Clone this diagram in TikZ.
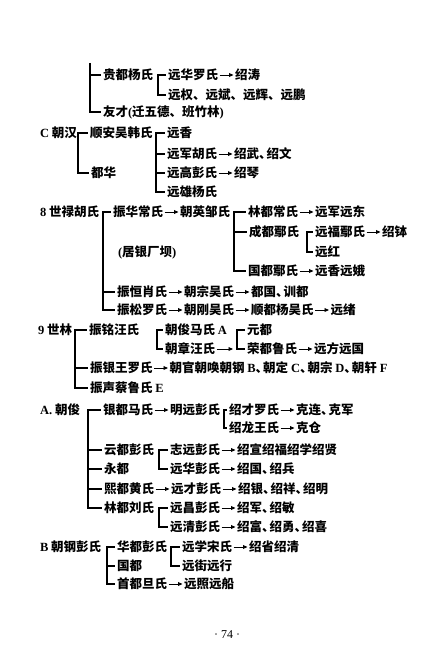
\documentclass[tikz,border=0pt]{standalone}
\usepackage{fontspec}
\setmainfont{Liberation Serif}
\newfontfamily\cjk{Noto Sans CJK SC}
\usetikzlibrary{arrows.meta,positioning}
\newcommand\lat[1]{{\rmfamily #1}}
\newcommand\dun{\makebox[0.6em][l]{、}}
\tikzset{
  t/.style={inner sep=0pt, outer sep=0pt, anchor=west,
    font=\cjk\bfseries\fontsize{12.5}{14}\selectfont,
    text height=11pt, text depth=1.5pt},
  ar/.style={draw, line width=0.9pt, -{Triangle[length=4.5pt,width=3.8pt]},
    shorten <=1.5pt, shorten >=1.5pt},
  br/.style={draw, line width=1.1pt},
}
\newcommand\chainto[3]{\node[t,right=17pt of #1] (#2) {#3}; \draw[ar] (#1) -- (#2);}
\newcommand\mybrk[3]{\draw[br] ([xshift=-2.5pt]#2.west) -- (#2.west -| #1) -- (#3.west -| #1) -- ([xshift=-2.5pt]#3.west);}
\newcommand\brarm[2]{\draw[br] (#2.west -| #1) -- ([xshift=-2.5pt]#2.west);}
\begin{document}
\begin{tikzpicture}[x=1pt,y=-1pt]
\fill[white] (0,0) rectangle (436,650);
\useasboundingbox (0,0) rectangle (436,650);

% top block (continued)
\coordinate (top0) at (90,63);
\node[t] (g1) at (103,75) {贵都杨氏};
\node[t] (g2) at (103,112) {友才\lat{(}迁五德、班竹林\lat{)}};
\draw[br] (top0) |- ([xshift=-2.5pt]g2.west);
\brarm{top0}{g1}
\coordinate (v1) at (158,0);
\node[t] (g1a) at (168,75) {远华罗氏};
\chainto{g1a}{g1a2}{绍涛}
\node[t] (g1b) at (168,95) {远权、远斌、远辉、远鹏};
\mybrk{v1}{g1a}{g1b}

% C
\node[t] (c0) at (40,133) {\lat{C} 朝汉};
\coordinate (v2) at (78,0);
\node[t] (c1) at (90,133) {顺安吴韩氏};
\node[t] (c2) at (91,173) {都华};
\mybrk{v2}{c1}{c2}
\coordinate (v3) at (156,0);
\node[t] (c1a) at (167,133) {远香};
\node[t] (c1b) at (167,154) {远军胡氏};
\chainto{c1b}{c1b2}{绍武\dun 绍文}
\node[t] (c1c) at (167,173) {远高彭氏};
\chainto{c1c}{c1c2}{绍琴}
\node[t] (c1d) at (167,192) {远雄杨氏};
\mybrk{v3}{c1a}{c1d}
\brarm{v3}{c1b}
\brarm{v3}{c1c}

% 8
\node[t] (e0) at (40,212) {\lat{8} 世禄胡氏};
\coordinate (v4) at (103,0);
\node[t] (e1) at (113,212) {振华常氏};
\chainto{e1}{e1b}{朝英邹氏}
\node[t] (ex) at (118,252) {\lat{(}居银厂坝\lat{)}};
\node[t] (e2) at (117,292) {振恒肖氏};
\chainto{e2}{e2b}{朝宗吴氏}
\chainto{e2b}{e2c}{都国\dun 训都}
\node[t] (e3) at (117,310) {振松罗氏};
\chainto{e3}{e3b}{朝刚吴氏}
\chainto{e3b}{e3c}{顺都杨吴氏}
\chainto{e3c}{e3d}{远绪}
\mybrk{v4}{e1}{e3}
\brarm{v4}{e2}
\coordinate (v5) at (234,0);
\node[t] (f1) at (248,212) {林都常氏};
\chainto{f1}{f1b}{远军远东}
\node[t] (f2) at (249,232) {成都鄢氏};
\node[t] (f3) at (248,271) {国都鄢氏};
\chainto{f3}{f3b}{远香远娥}
\mybrk{v5}{f1}{f3}
\brarm{v5}{f2}
\coordinate (v6) at (307,0);
\node[t] (f2a) at (315,232) {远福鄢氏};
\chainto{f2a}{f2a2}{绍钵}
\node[t] (f2b) at (315,252) {远红};
\mybrk{v6}{f2a}{f2b}

% 9
\node[t] (n0) at (38,330) {\lat{9} 世林};
\coordinate (v7) at (75,0);
\node[t] (n1) at (89,330) {振铭汪氏};
\node[t] (n2) at (90,368) {振银王罗氏};
\chainto{n2}{n2b}{朝官朝唤朝钢 \lat{B}\dun 朝定 \lat{C}\dun 朝宗 \lat{D}\dun 朝轩 \lat{F}}
\node[t] (n3) at (90,388) {振声蔡鲁氏 \lat{E}};
\mybrk{v7}{n1}{n3}
\brarm{v7}{n2}
\coordinate (v8) at (157,0);
\node[t] (m1) at (165,330) {朝俊马氏 \lat{A}};
\node[t] (m2) at (165,349) {朝章汪氏};
\mybrk{v8}{m1}{m2}
\coordinate (v9) at (237,0);
\node[t] (k1) at (247,330) {元都};
\node[t] (k2) at (247,349) {荣都鲁氏};
\chainto{k2}{k2b}{远方远国}
\mybrk{v9}{k1}{k2}
\coordinate (k2in) at ([xshift=-2.5pt]k2.west -| v9);
\draw[ar] (m2) -- (k2in);

% A
\node[t] (a0) at (40,410) {\lat{A.} 朝俊};
\coordinate (v10) at (88,0);
\node[t] (a1) at (103,410) {银都马氏};
\chainto{a1}{a1b}{明远彭氏}
\node[t] (a2) at (104,450) {云都彭氏};
\node[t] (a3) at (104,469) {永都};
\node[t] (a4) at (104,489) {熙都黄氏};
\chainto{a4}{a4b}{远才彭氏}
\chainto{a4b}{a4c}{绍银\dun 绍祥\dun 绍明}
\node[t] (a5) at (104,508) {林都刘氏};
\mybrk{v10}{a1}{a5}
\brarm{v10}{a2}
\brarm{v10}{a3}
\brarm{v10}{a4}
\coordinate (v11) at (224,0);
\node[t] (p1) at (229,410) {绍才罗氏};
\chainto{p1}{p1b}{克连\dun 克军}
\node[t] (p2) at (229,428) {绍龙王氏};
\chainto{p2}{p2b}{克仓}
\mybrk{v11}{p1}{p2}
\coordinate (v12) at (159,0);
\node[t] (q1) at (170,450) {志远彭氏};
\chainto{q1}{q1b}{绍宣绍福绍学绍贤}
\node[t] (q2) at (170,469) {远华彭氏};
\chainto{q2}{q2b}{绍国\dun 绍兵}
\mybrk{v12}{q1}{q2}
\node[t] (r1) at (170,508) {远昌彭氏};
\chainto{r1}{r1b}{绍军\dun 绍敏}
\node[t] (r2) at (170,527) {远清彭氏};
\chainto{r2}{r2b}{绍富\dun 绍勇\dun 绍喜}
\mybrk{v12}{r1}{r2}

% B
\node[t] (b0) at (40,547) {\lat{B} 朝钢彭氏};
\coordinate (v13) at (107,0);
\node[t] (b1) at (117,547) {华都彭氏};
\node[t] (b2) at (117,566) {国都};
\node[t] (b3) at (117,584) {首都旦氏};
\chainto{b3}{b3b}{远照远船}
\mybrk{v13}{b1}{b3}
\brarm{v13}{b2}
\coordinate (v14) at (171,0);
\node[t] (s1) at (182,547) {远学宋氏};
\chainto{s1}{s1b}{绍省绍清}
\node[t] (s2) at (182,566) {远街远行};
\mybrk{v14}{s1}{s2}

% page number
\node[font=\fontsize{12}{14}\selectfont] (pg) at (227,635) {· 74 ·};
\end{tikzpicture}
\end{document}
